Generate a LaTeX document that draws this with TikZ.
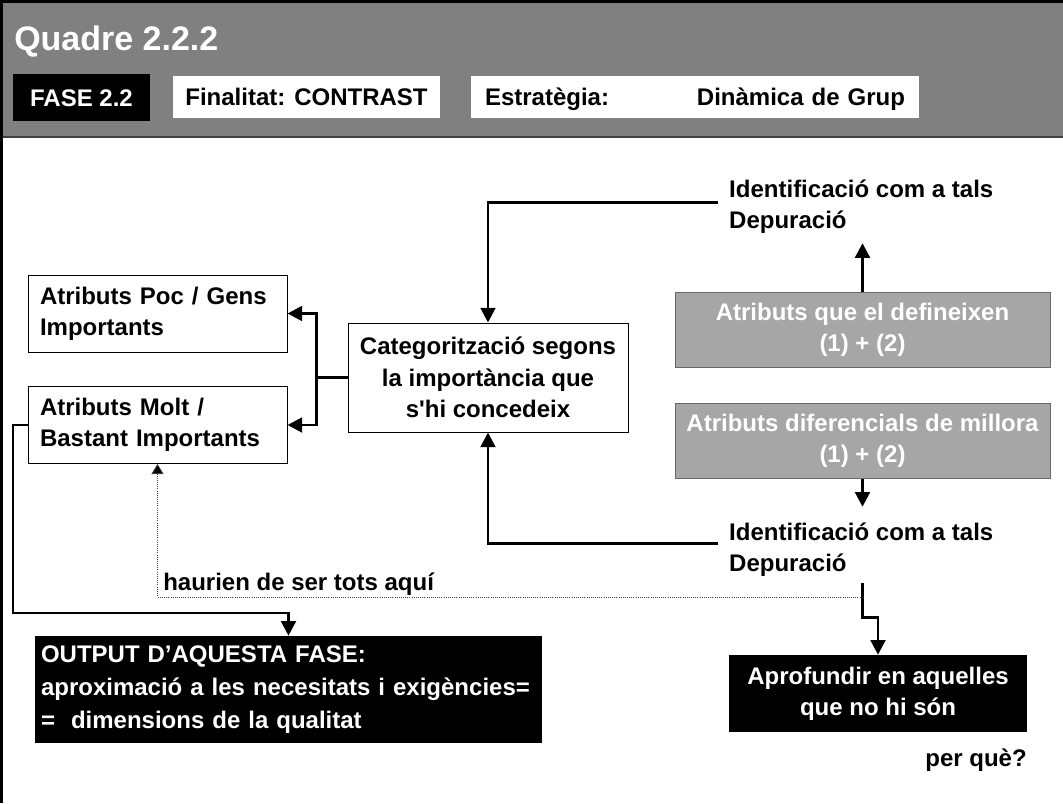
\documentclass[tikz,border=0pt]{standalone}
\usepackage{fontspec}
\setmainfont{Liberation Sans}
\usetikzlibrary{arrows.meta}
\newdimen\px \px=0.75pt
\definecolor{hdr}{RGB}{128,128,128}
\definecolor{gbox}{RGB}{166,166,166}
\definecolor{gline}{RGB}{105,105,105}
\tikzset{
  every node/.style={font=\fontsize{18pt}{23.5pt}\selectfont\bfseries},
  wbox/.style={draw=black, line width=0.75pt, fill=white, inner sep=0pt},
  bbox/.style={fill=black, text=white, inner sep=0pt},
  hbox/.style={text height=12.9pt, text depth=0pt},
  gbx/.style={draw=gline, line width=0.75pt, fill=gbox, text=white, inner sep=0pt, align=center,
              minimum width=375\px, minimum height=75\px},
  plain/.style={inner xsep=8pt, inner ysep=4.5pt, align=left},
  arr/.style={line width=2.2pt, -{Triangle[length=11pt,width=11pt]}},
  dotarr/.style={line width=0.6pt, densely dotted, draw=black!75, -{Triangle[length=7.5pt,width=9pt,fill=black]}}
}
\begin{document}
\begin{tikzpicture}[x=0.75pt,y=-0.75pt]
\useasboundingbox (0,0) rectangle (1063,803);
% header band and frame
\fill[hdr] (0,0) rectangle (1063,137);
\draw[line width=1.5pt, draw=black!75] (0,137) -- (1063,137);
\draw[line width=2.4pt] (0,1.6) -- (1063,1.6);
\draw[line width=2.4pt] (1.6,0) -- (1.6,803);

\node[anchor=base west, inner sep=0pt, text=white, font=\fontsize{25.5pt}{30pt}\selectfont\bfseries] (title) at (14,50) {Quadre 2.2.2};
\node[bbox, hbox, minimum width=137\px, minimum height=47\px] (fase) at (81.5,97.5) {FASE 2.2};
\node[wbox, hbox, draw=none, minimum width=267\px, minimum height=42\px] (fin) at (306.5,97) {Finalitat: CONTRAST};
\node[wbox, hbox, draw=none, minimum width=448\px, minimum height=42\px, text width=420\px, align=left] (estr) at (695,97) {Estratègia:\hfill Dinàmica de Grup};

% left boxes
\node[wbox, minimum width=259\px, minimum height=77\px, text width=235\px, align=left] (poc) at (157.5,313.5) {Atributs Poc / Gens\\Importants};
\node[wbox, minimum width=259\px, minimum height=77\px, text width=235\px, align=left] (molt) at (157.5,425) {Atributs Molt /\\Bastant Importants};
\node[wbox, minimum width=280\px, minimum height=109\px, align=center] (categ) at (488,377.5) {Categorització segons\\la importància que\\s\textquotesingle hi concedeix};

% right side
\node[plain, anchor=west] (idtop) at (718.3,206.6) {Identificació com a tals\\Depuració};
\node[gbx] (g1) at (862.5,329.5) {Atributs que el defineixen\\(1) + (2)};
\node[gbx] (g2) at (862.5,440.5) {Atributs diferencials de millora\\(1) + (2)};
\node[plain, anchor=west] (idbot) at (718.3,549.6) {Identificació com a tals\\Depuració};

% bottom boxes
\node[bbox, minimum width=507\px, minimum height=107\px, text width=495\px, align=left, font=\fontsize{18pt}{24.5pt}\selectfont\bfseries] (output) at (288.5,689.5) {OUTPUT D’AQUESTA FASE:\\aproximació a les necesitats i exigències=\\= \ dimensions de la qualitat};
\node[bbox, minimum width=298\px, minimum height=77\px, align=center] (aprof) at (878,693.5) {Aprofundir en aquelles\\que no hi són};
\node[anchor=base east, inner sep=0pt] (perque) at (1027,766.6) {per què?};
\node[anchor=base west, inner sep=0pt] (haur) at (163,590.6) {haurien de ser tots aquí};

% connectors
\draw[arr] ([yshift=3pt]idtop.west) -| (categ.north);
\draw[arr] ([yshift=4.5pt]idbot.west) -| (categ.south);
\draw[arr] (g1.north) -- ([yshift=-2.5pt]g1.north |- idtop.south);
\draw[arr, shorten >=7.2pt] (g2.south) -- (g2.south |- idbot.north);
\draw[arr] (categ.west) -- ++(-31,0) |- (poc.east);
\draw[arr] (categ.west) -- ++(-31,0) |- (molt.east);
\coordinate (lc) at (13,613);
\draw[arr] (molt.west) -| (lc) -| (output.north);
\coordinate (dj) at (g2.south |- 0,597);
\draw[dotarr] (dj) -| (molt.south);
\draw[arr] (g2.south |- idbot.south) -- ++(0,35) -| (aprof.north);
\end{tikzpicture}
\end{document}
